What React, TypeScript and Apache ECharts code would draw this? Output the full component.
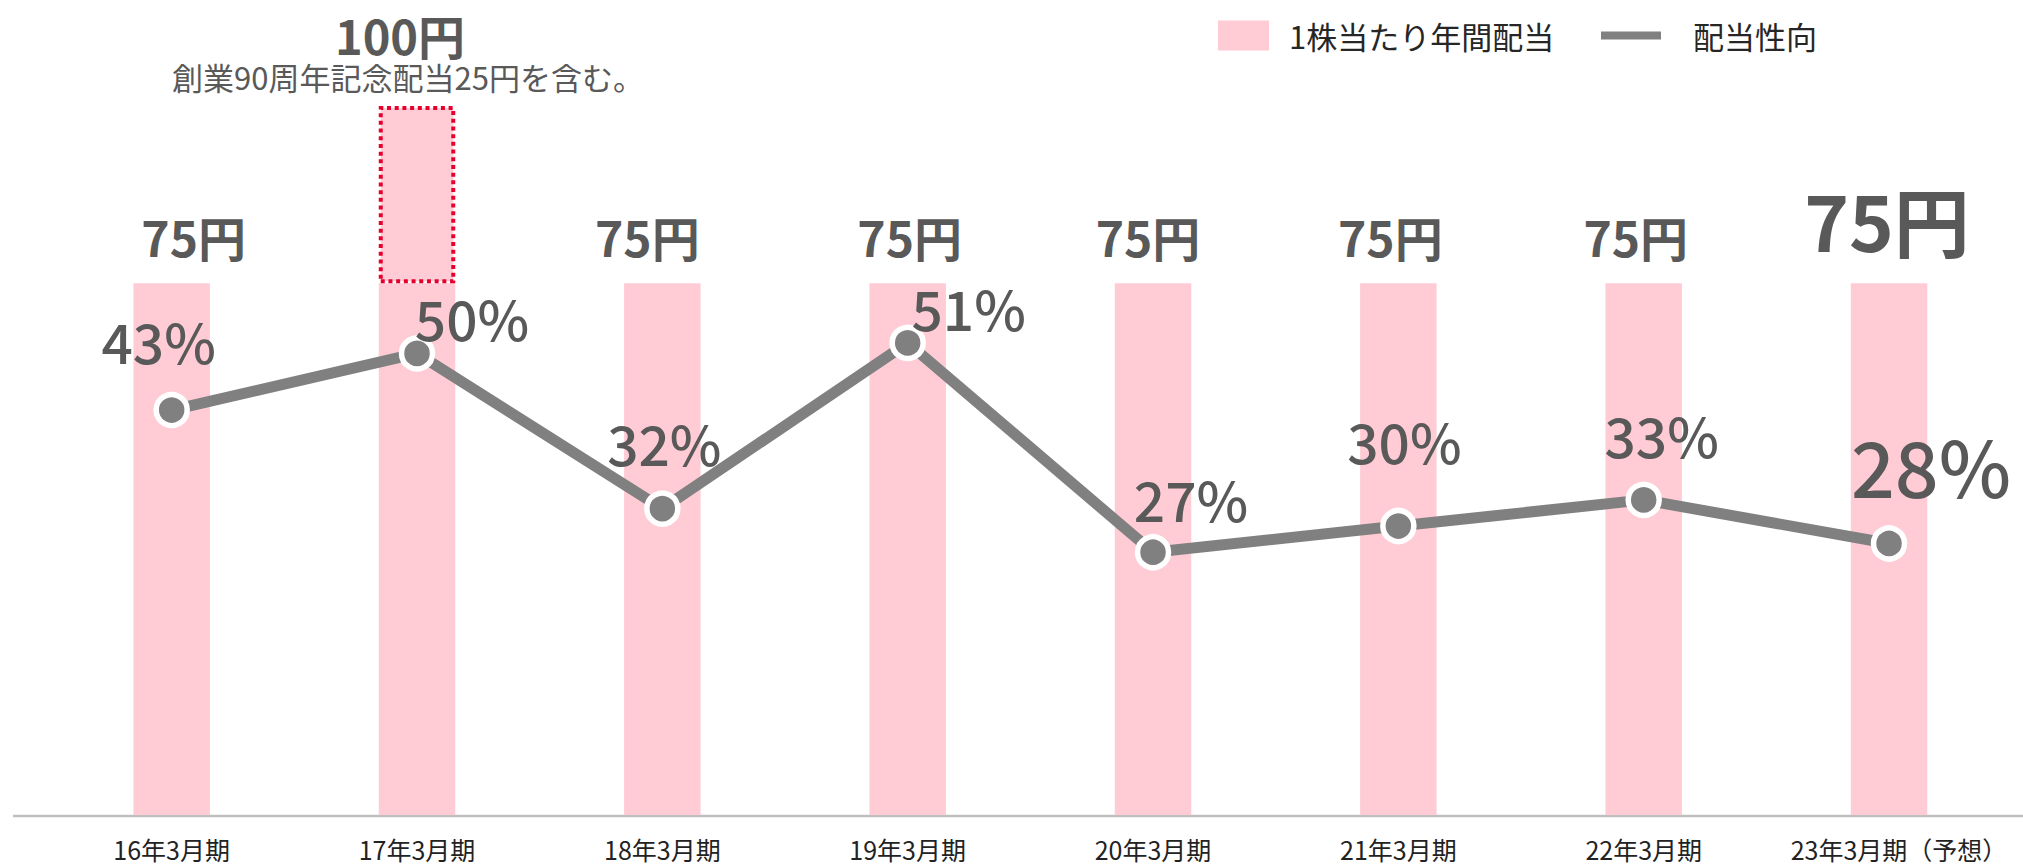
import React, { useEffect, useRef } from "react";
import * as echarts from "echarts";

const categories = [
  "16年3月期",
  "17年3月期",
  "18年3月期",
  "19年3月期",
  "20年3月期",
  "21年3月期",
  "22年3月期",
  "23年3月期（予想）",
];
const dividends = [75, 100, 75, 75, 75, 75, 75, 75];
const commemorative = [0, 25, 0, 0, 0, 0, 0, 0];
const payoutRatio = [43.3, 49.8, 32, 51, 27, 30, 33, 28];
const noteText = "創業90周年記念配当25円を含む。";

const barName = "1株当たり年間配当";
const lineName = "配当性向";

// label placement (styles, kept apart from values)
const barLabelDx = [22, 0, -15, 2, -5, -8, -8, -2];
const pctLabelOffset = [
  [-13, -70],
  [55, -36],
  [2, -67],
  [61, -36],
  [38, -54],
  [6, -86],
  [18, -66],
  [42, -79],
];

const FONT = "'Noto Sans CJK JP', 'Noto Sans', sans-serif";
const PINK = "#ffccd5";
const GRAY = "#808080";
const TEXT = "#595959";

export default function App() {
  const ref = useRef<HTMLDivElement>(null);

  useEffect(() => {
    if (!ref.current) return;
    const chart = echarts.init(ref.current, undefined, { renderer: "svg" });
    const last = categories.length - 1;
    const regular = dividends.map((d, i) => d - commemorative[i]);

    const option = {
      animation: false,
      backgroundColor: "#ffffff",
      textStyle: { fontFamily: FONT },
      legend: [
        {
          data: [barName],
          left: 1218,
          top: 20,
          padding: 0,
          itemWidth: 51,
          itemHeight: 30,
          selectedMode: false,
          icon: "rect",
          textStyle: {
            fontFamily: FONT,
            fontSize: 31,
            lineHeight: 30,
            color: "#262626",
            padding: [0, 0, 0, 15],
          },
        },
        {
          data: [lineName],
          left: 1601,
          top: 20,
          padding: 0,
          itemWidth: 60,
          itemHeight: 8,
          selectedMode: false,
          icon: "rect",
          itemStyle: { borderWidth: 0, color: GRAY },
          textStyle: {
            fontFamily: FONT,
            fontSize: 31,
            lineHeight: 30,
            color: "#262626",
            padding: [0, 0, 0, 27],
          },
        },
      ],
      grid: { left: 49, right: 11.3, top: 106, bottom: 52, containLabel: false },
      xAxis: {
        type: "category",
        data: categories.map((c, i) =>
          i === categories.length - 1
            ? { value: c, textStyle: { padding: [0, 0, 0, 20] } }
            : c
        ),
        axisLine: { show: false },
        axisTick: { show: false },
        axisLabel: {
          interval: 0,
          margin: 21.5,
          fontSize: 25,
          lineHeight: 25,
          color: "#222222",
          fontFamily: FONT,
        },
      },
      yAxis: [
        { type: "value", min: 0, max: 100, show: false },
        { type: "value", min: -3.14, max: 78.17, show: false },
      ],
      graphic: [
        {
          type: "line",
          z: 0,
          shape: { x1: 13, y1: 816, x2: 2023, y2: 816 },
          style: { stroke: "#bfbfbf", lineWidth: 2.5 },
        },
      ],
      series: [
        {
          name: barName,
          type: "bar",
          stack: "div",
          barWidth: 76.5,
          itemStyle: { color: PINK },
          label: {
            show: true,
            position: "top",
            distance: 23,
            fontSize: 48,
            lineHeight: 48,
            fontWeight: "bold",
            color: TEXT,
            fontFamily: FONT,
            formatter: (p: any) => `${dividends[p.dataIndex]}円`,
          },
          data: regular.map((v, i) => ({
            value: v,
            label:
              commemorative[i] > 0
                ? { show: false }
                : i === last
                ? { offset: [barLabelDx[i], 0], fontSize: 76, lineHeight: 76, distance: 26 }
                : { offset: [barLabelDx[i], 0] },
          })),
        },
        {
          name: "記念配当",
          type: "bar",
          stack: "div",
          barWidth: 76.5,
          itemStyle: {
            color: PINK,
            borderColor: "#e6002d",
            borderWidth: 4,
            borderType: [4, 3.7],
          },
          label: {
            show: true,
            position: "top",
            distance: 7.5,
            offset: [-17, 0],
            color: TEXT,
            fontFamily: FONT,
            formatter: (p: any) =>
              `{a|${dividends[p.dataIndex]}円}\n{b|${noteText}}`,
            rich: {
              a: { fontSize: 47, lineHeight: 41, fontWeight: "bold", color: TEXT, fontFamily: FONT },
              b: {
                fontSize: 31,
                lineHeight: 44,
                color: TEXT,
                fontFamily: FONT,
                padding: [0, 0, 0, 16],
              },
            },
          },
          data: commemorative.map((v) => (v > 0 ? v : null)),
        },
        {
          name: lineName,
          type: "line",
          yAxisIndex: 1,
          symbol: "circle",
          symbolSize: 31,
          z: 5,
          itemStyle: { color: GRAY, borderColor: "#ffffff", borderWidth: 5.5 },
          lineStyle: { color: GRAY, width: 11 },
          label: {
            show: true,
            position: "inside",
            fontSize: 55,
            lineHeight: 55,
            fontWeight: 500,
            color: TEXT,
            fontFamily: FONT,
            formatter: (p: any) => `${Math.round(p.value)}%`,
          },
          data: payoutRatio.map((v, i) => ({
            value: v,
            label:
              i === last
                ? { offset: pctLabelOffset[i], fontSize: 77, lineHeight: 77 }
                : { offset: pctLabelOffset[i] },
          })),
        },
      ],
    };

    chart.setOption(option as any);
    return () => chart.dispose();
  }, []);

  return (
    <div
      ref={ref}
      style={{ position: "fixed", left: 0, top: 0, width: 2023, height: 867, background: "#fff" }}
    />
  );
}
